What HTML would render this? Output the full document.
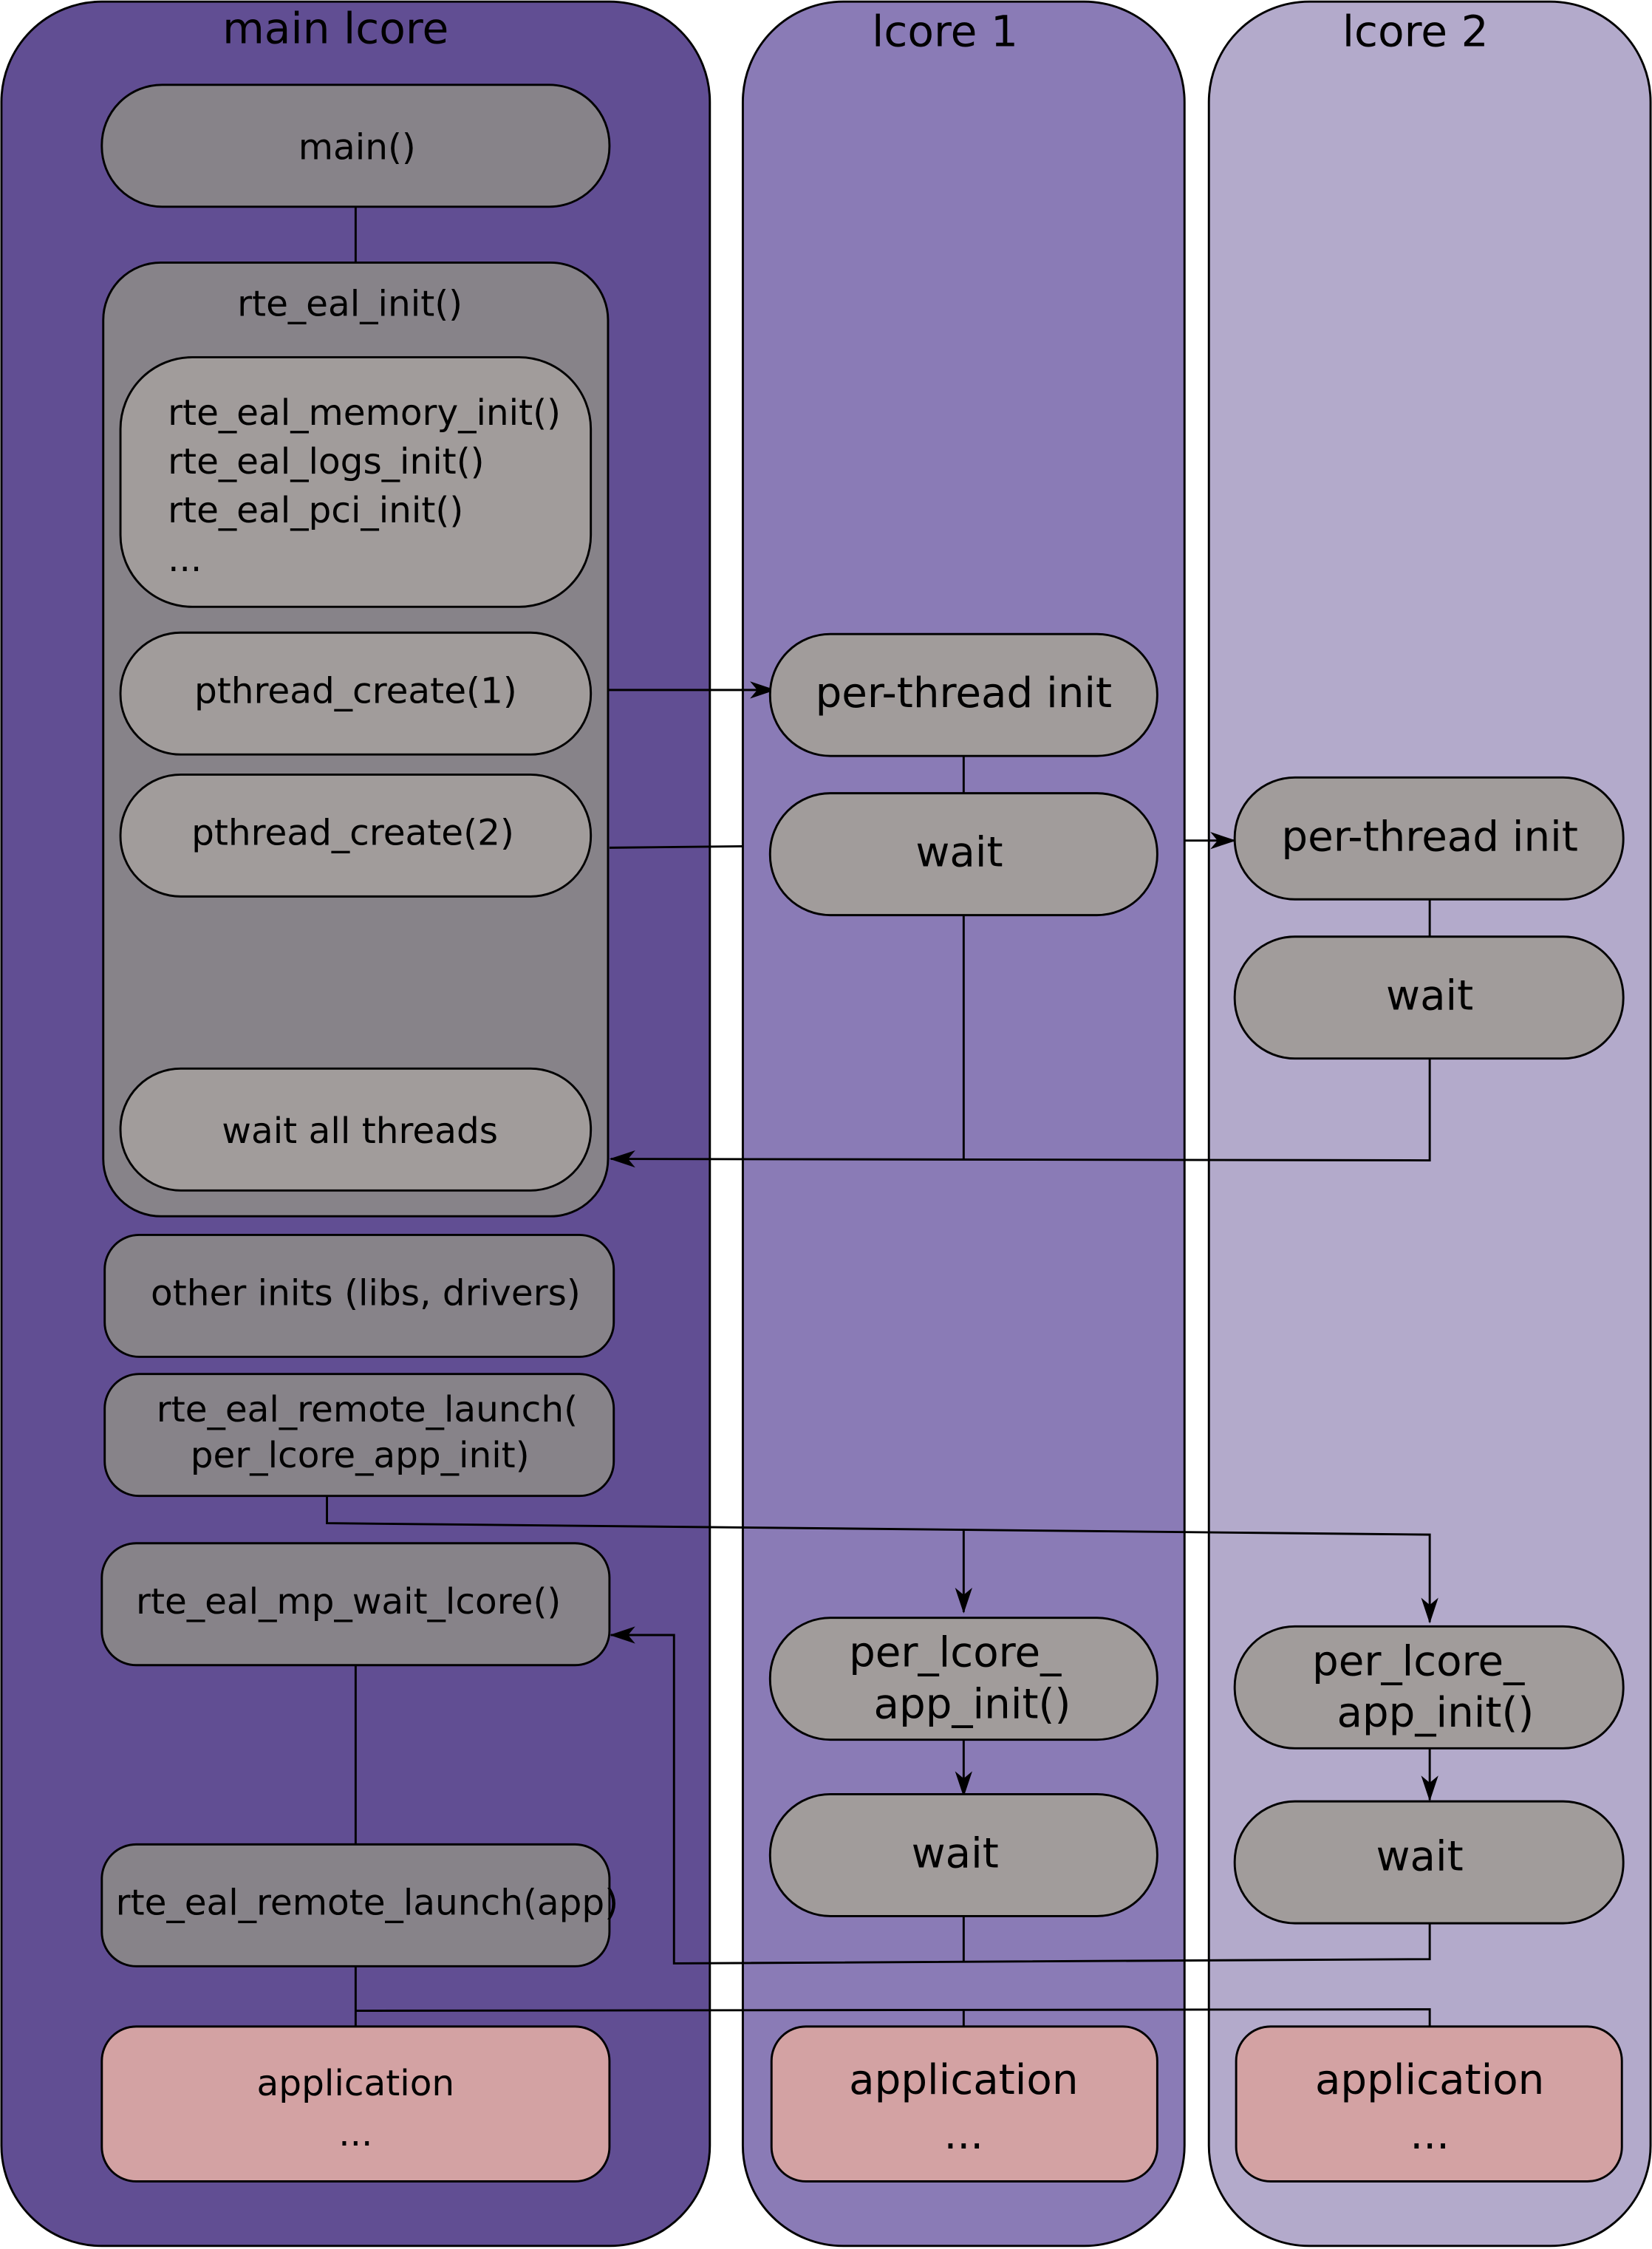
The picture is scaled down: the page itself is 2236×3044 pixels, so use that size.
<!DOCTYPE html>
<html><head><meta charset="utf-8"><style>
html,body{margin:0;padding:0;background:#fff}
svg{display:block}
text{font-family:"DejaVu Sans","Liberation Sans",sans-serif;fill:#000}
</style></head><body>
<svg width="2236" height="3044" viewBox="0 0 1152 1568" xmlns="http://www.w3.org/2000/svg">
<defs><marker id="a" markerWidth="18" markerHeight="12" refX="17" refY="6" orient="auto" markerUnits="userSpaceOnUse"><path d="M0,0 L18,6 L0,12 L5,6 z" fill="#000"/></marker></defs>
<g stroke="#000" stroke-width="1.5">
<rect x="1" y="1" width="494" height="1565" rx="70" fill="#614e93"/>
<rect x="518" y="1" width="308" height="1565" rx="70" fill="#8a7bb6"/>
<rect x="843" y="1" width="308" height="1565" rx="70" fill="#b3aacb"/>
</g>
<g font-size="30" text-anchor="middle">
<text x="234" y="30">main lcore</text>
<text x="659" y="32">lcore 1</text>
<text x="987" y="32">lcore 2</text>
</g>
<g stroke="#000" stroke-width="1.5" fill="none">
<line x1="248" y1="144" x2="248" y2="184"/>
<line x1="672" y1="527" x2="672" y2="553"/>
<line x1="997" y1="627" x2="997" y2="653"/>
<line x1="248" y1="1161" x2="248" y2="1287"/>
<line x1="248" y1="1371" x2="248" y2="1414"/>
<line x1="412" y1="481" x2="540" y2="481" marker-end="url(#a)"/>
<polyline points="425,591 518,590"/>
<line x1="826" y1="586" x2="861" y2="586" marker-end="url(#a)"/>
<polyline points="672,638 672,808"/>
<polyline points="997,738 997,809 426,808" marker-end="url(#a)"/>
<polyline points="228,1042 228,1062 997,1070 997,1131" marker-end="url(#a)"/>
<line x1="672" y1="1066" x2="672" y2="1124" marker-end="url(#a)"/>
<line x1="672" y1="1212" x2="672" y2="1252" marker-end="url(#a)"/>
<line x1="997" y1="1218" x2="997" y2="1255" marker-end="url(#a)"/>
<polyline points="672,1336 672,1368"/>
<polyline points="997,1340 997,1366 470,1369 470,1140 426,1140" marker-end="url(#a)"/>
<polyline points="248,1402 997,1401 997,1414"/>
<line x1="672" y1="1401" x2="672" y2="1414"/>
</g>
<g stroke="#000" stroke-width="1.5">
<rect x="71" y="59" width="354" height="85" rx="42" fill="#878389"/>
<rect x="72" y="183" width="352" height="665" rx="40" fill="#878389"/>
<rect x="84" y="249" width="328" height="174" rx="50" fill="#a19c9b"/>
<rect x="84" y="441" width="328" height="85" rx="42" fill="#a19c9b"/>
<rect x="84" y="540" width="328" height="85" rx="42" fill="#a19c9b"/>
<rect x="84" y="745" width="328" height="85" rx="42" fill="#a19c9b"/>
<rect x="73" y="861" width="355" height="85" rx="24" fill="#878389"/>
<rect x="73" y="958" width="355" height="85" rx="24" fill="#878389"/>
<rect x="71" y="1076" width="354" height="85" rx="24" fill="#878389"/>
<rect x="71" y="1286" width="354" height="85" rx="24" fill="#878389"/>
<rect x="71" y="1413" width="354" height="108" rx="24" fill="#d3a2a3"/>
<rect x="537" y="442" width="270" height="85" rx="42" fill="#a19c9b"/>
<rect x="537" y="553" width="270" height="85" rx="42" fill="#a19c9b"/>
<rect x="537" y="1128" width="270" height="85" rx="42" fill="#a19c9b"/>
<rect x="537" y="1251" width="270" height="85" rx="42" fill="#a19c9b"/>
<rect x="538" y="1413" width="269" height="108" rx="24" fill="#d3a2a3"/>
<rect x="861" y="542" width="271" height="85" rx="42" fill="#a19c9b"/>
<rect x="861" y="653" width="271" height="85" rx="42" fill="#a19c9b"/>
<rect x="861" y="1134" width="271" height="85" rx="42" fill="#a19c9b"/>
<rect x="861" y="1256" width="271" height="85" rx="42" fill="#a19c9b"/>
<rect x="862" y="1413" width="269" height="108" rx="24" fill="#d3a2a3"/>
</g>
<g font-size="25" text-anchor="middle">
<text x="249" y="111">main()</text>
<text x="244" y="220">rte_eal_init()</text>
<text x="248" y="490">pthread_create(1)</text>
<text x="246" y="589">pthread_create(2)</text>
<text x="251" y="797">wait all threads</text>
<text x="255" y="910">other inits (libs, drivers)</text>
<text x="256" y="991">rte_eal_remote_launch(</text>
<text x="251" y="1023">per_lcore_app_init)</text>
<text x="243" y="1125">rte_eal_mp_wait_lcore()</text>
<text x="256" y="1335">rte_eal_remote_launch(app)</text>
<text x="248" y="1461">application</text>
<text x="248" y="1496">...</text>
</g>
<g font-size="25">
<text x="117" y="296">rte_eal_memory_init()</text>
<text x="117" y="330">rte_eal_logs_init()</text>
<text x="117" y="364">rte_eal_pci_init()</text>
<text x="117" y="398">...</text>
</g>
<g font-size="29" text-anchor="middle">
<text x="672" y="493">per-thread init</text>
<text x="669" y="604">wait</text>
<text x="997" y="593">per-thread init</text>
<text x="997" y="704">wait</text>
<text x="666" y="1162">per_lcore_</text>
<text x="678" y="1198">app_init()</text>
<text x="666" y="1302">wait</text>
<text x="989" y="1168">per_lcore_</text>
<text x="1001" y="1204">app_init()</text>
<text x="990" y="1304">wait</text>
<text x="672" y="1460">application</text>
<text x="672" y="1498">...</text>
<text x="997" y="1460">application</text>
<text x="997" y="1498">...</text>
</g>
</svg>
</body></html>
